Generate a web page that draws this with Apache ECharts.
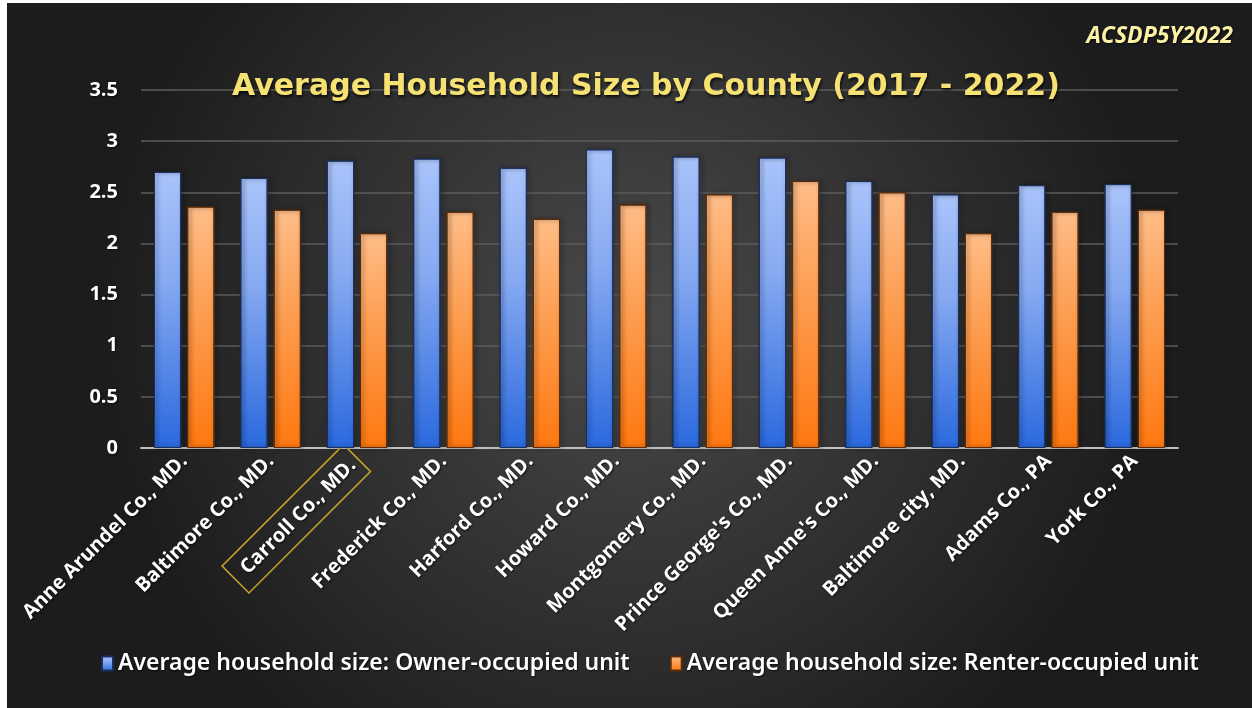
<!DOCTYPE html>
<html>
<head>
<meta charset="utf-8">
<script src="https://cdn.jsdelivr.net/npm/echarts@6/dist/echarts.min.js"></script>
<style>
  html, body { margin: 0; padding: 0; background: #ffffff; }
  #chart { position: absolute; left: 7px; top: 3px; width: 1245px; height: 705px; }
</style>
</head>
<body>
<div id="chart"></div>
<script>
// categories and values
const counties = [
  'Anne Arundel Co., MD.', 'Baltimore Co., MD.', 'Carroll Co., MD.', 'Frederick Co., MD.',
  'Harford Co., MD.', 'Howard Co., MD.', 'Montgomery Co., MD.', "Prince George's Co., MD.",
  "Queen Anne's Co., MD.", 'Baltimore city, MD.', 'Adams Co., PA', 'York Co., PA'
];
const ownerSize = [2.70, 2.64, 2.81, 2.83, 2.74, 2.92, 2.85, 2.84, 2.61, 2.48, 2.57, 2.58];
const renterSize = [2.36, 2.33, 2.10, 2.31, 2.24, 2.38, 2.48, 2.61, 2.50, 2.10, 2.31, 2.33];
const highlighted = 'Carroll Co., MD.';

const chart = echarts.init(document.getElementById('chart'));

const blueFill = new echarts.graphic.LinearGradient(0, 0, 0, 1, [
  { offset: 0, color: '#aac4fb' },
  { offset: 0.4, color: '#86a9f1' },
  { offset: 1, color: '#2a69de' }
]);
const orangeFill = new echarts.graphic.LinearGradient(0, 0, 0, 1, [
  { offset: 0, color: '#ffbd88' },
  { offset: 0.4, color: '#fda055' },
  { offset: 1, color: '#ff7810' }
]);

const labelShadow = {
  textShadowColor: 'rgba(0,0,0,0.7)', textShadowBlur: 2, textShadowOffsetX: 1, textShadowOffsetY: 1
};

const option = {
  backgroundColor: {
    type: 'radial', x: 0.5, y: 0.45, r: 0.75,
    colorStops: [
      { offset: 0, color: '#4a4a4a' },
      { offset: 1, color: '#1c1c1c' }
    ]
  },
  title: [
    {
      text: 'Average Household Size by County (2017 - 2022)',
      left: 634, top: 64, textAlign: 'center',
      textStyle: {
        color: '#f5e273', fontSize: 30, fontWeight: 'bold', fontFamily: 'DejaVu Sans',
        textShadowColor: 'rgba(0,0,0,0.8)', textShadowBlur: 3, textShadowOffsetX: 1, textShadowOffsetY: 2
      }
    },
    {
      text: 'ACSDP5Y2022',
      right: 14, top: 17,
      textStyle: {
        color: '#fcf2a6', fontSize: 23, fontWeight: 'bold', fontStyle: 'italic', fontFamily: 'Open Sans',
        textShadowColor: 'rgba(0,0,0,0.8)', textShadowBlur: 2, textShadowOffsetX: 1, textShadowOffsetY: 1
      }
    }
  ],
  legend: {
    bottom: 28, left: 89,
    itemWidth: 11, itemHeight: 14, itemGap: 40,
    icon: 'rect',
    textStyle: {
      color: '#ffffff', fontSize: 23, fontWeight: 600, fontFamily: 'Noto Sans', ...labelShadow
    }
  },
  grid: { left: 134, top: 87, width: 1037, height: 358 },
  xAxis: {
    type: 'category',
    data: counties,
    axisLine: { lineStyle: { color: '#bfbfbf', width: 2 } },
    axisTick: { show: false },
    axisLabel: {
      interval: 0, rotate: 45, margin: 10,
      color: '#ffffff', fontSize: 20, fontWeight: 'bold', fontFamily: 'Open Sans', ...labelShadow,
      formatter: function (value) {
        return value === highlighted ? '{box|' + value + '}' : value;
      },
      rich: {
        box: {
          color: '#ffffff', fontSize: 20, fontWeight: 'bold', fontFamily: 'Open Sans',
          borderColor: '#c9a826', borderWidth: 1.5, padding: [9, 6, 9, 12]
        }
      }
    }
  },
  yAxis: {
    type: 'value',
    min: 0, max: 3.5, interval: 0.5,
    axisLine: { show: false },
    axisTick: { show: false },
    splitLine: { lineStyle: { color: '#5c5c5c', width: 1.5 } },
    axisLabel: {
      margin: 23, color: '#ffffff', fontSize: 20, fontWeight: 'bold', fontFamily: 'Open Sans', ...labelShadow
    }
  },
  series: [
    {
      name: 'Average household size: Owner-occupied unit',
      type: 'bar',
      data: ownerSize,
      barGap: '22%',
      barCategoryGap: '30%',
      itemStyle: {
        color: blueFill, borderColor: '#1b2f5c', borderWidth: 1,
        shadowColor: 'rgba(0,0,0,0.6)', shadowBlur: 4, shadowOffsetX: 2, shadowOffsetY: 0
      }
    },
    {
      name: 'Average household size: Renter-occupied unit',
      type: 'bar',
      data: renterSize,
      barGap: '22%',
      barCategoryGap: '30%',
      itemStyle: {
        color: orangeFill, borderColor: '#5a2c0a', borderWidth: 1,
        shadowColor: 'rgba(0,0,0,0.6)', shadowBlur: 4, shadowOffsetX: 2, shadowOffsetY: 0
      }
    }
  ]
};

chart.setOption(option);
</script>
</body>
</html>
